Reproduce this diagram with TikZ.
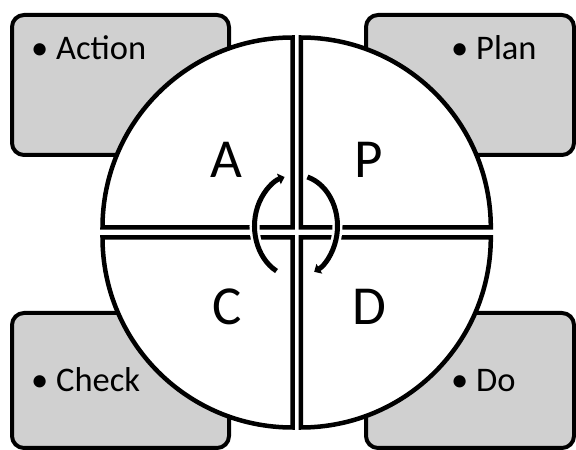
\documentclass[tikz,border=0pt]{standalone}
\usepackage{fontspec}
\setmainfont{Carlito}
\usetikzlibrary{arrows.meta}
\definecolor{boxgray}{RGB}{208,208,208}
\tikzset{
  x=1pt, y=1pt,
  infobox/.style={draw=black, fill=boxgray, line width=4pt, rounded corners=12pt},
  quarter/.style={draw=black, fill=white, line width=4.5pt, line join=miter},
  bullettext/.style={anchor=base west, inner sep=0pt, font=\fontsize{34.5}{40}\selectfont},
  bigletter/.style={anchor=base, inner sep=0pt, font=\fontsize{55}{60}\selectfont},
  cyclecase/.style={white, line width=10pt},
  cyclearc/.style={black, line width=5pt, -{Triangle[width=11pt,length=6pt]}},
}
\begin{document}
\begin{tikzpicture}
\useasboundingbox (0,0) rectangle (576,450);
% boxes
\draw[infobox] (12,295) rectangle (229,435);
\draw[infobox] (366,295) rectangle (574,435);
\draw[infobox] (12,2) rectangle (229,137);
\draw[infobox] (366,2) rectangle (574,137);
% quarters
\def\R{190}
\draw[quarter] (292.5,222.5) -- ++(180:\R) arc[start angle=180, end angle=90, radius=\R] -- cycle;
\draw[quarter] (300.8,222.5) -- ++(90:\R) arc[start angle=90, end angle=0, radius=\R] -- cycle;
\draw[quarter] (292.5,212.5) -- ++(270:\R) arc[start angle=270, end angle=180, radius=\R] -- cycle;
\draw[quarter] (300.8,212.5) -- ++(0:\R) arc[start angle=0, end angle=-90, radius=\R] -- cycle;
% texts
\node[bullettext] (tAction) at (31,390) {• Action};
\node[bullettext] (tPlan) at (451,390) {• Plan};
\node[bullettext] (tCheck) at (31,58) {• Check};
\node[bullettext] (tDo) at (451,58) {• Do};
\node[bigletter] (lA) at (226,272) {A};
\node[bigletter] (lP) at (369,272) {P};
\node[bigletter] (lC) at (227,125) {C};
\node[bigletter] (lD) at (369,125) {D};
% cycle arrows
\coordinate (cc) at (296,224);
\draw[cyclecase] ([shift={(242:41.5 and 51)}]cc) arc[start angle=242, end angle=108, x radius=41.5, y radius=51];
\draw[cyclecase] ([shift={(73:41.5 and 51)}]cc) arc[start angle=73, end angle=-66, x radius=41.5, y radius=51];
\draw[cyclearc] ([shift={(242:41.5 and 51)}]cc) arc[start angle=242, end angle=106, x radius=41.5, y radius=51];
\draw[cyclearc] ([shift={(74:41.5 and 51)}]cc) arc[start angle=74, end angle=-64, x radius=41.5, y radius=51];
\end{tikzpicture}
\end{document}
